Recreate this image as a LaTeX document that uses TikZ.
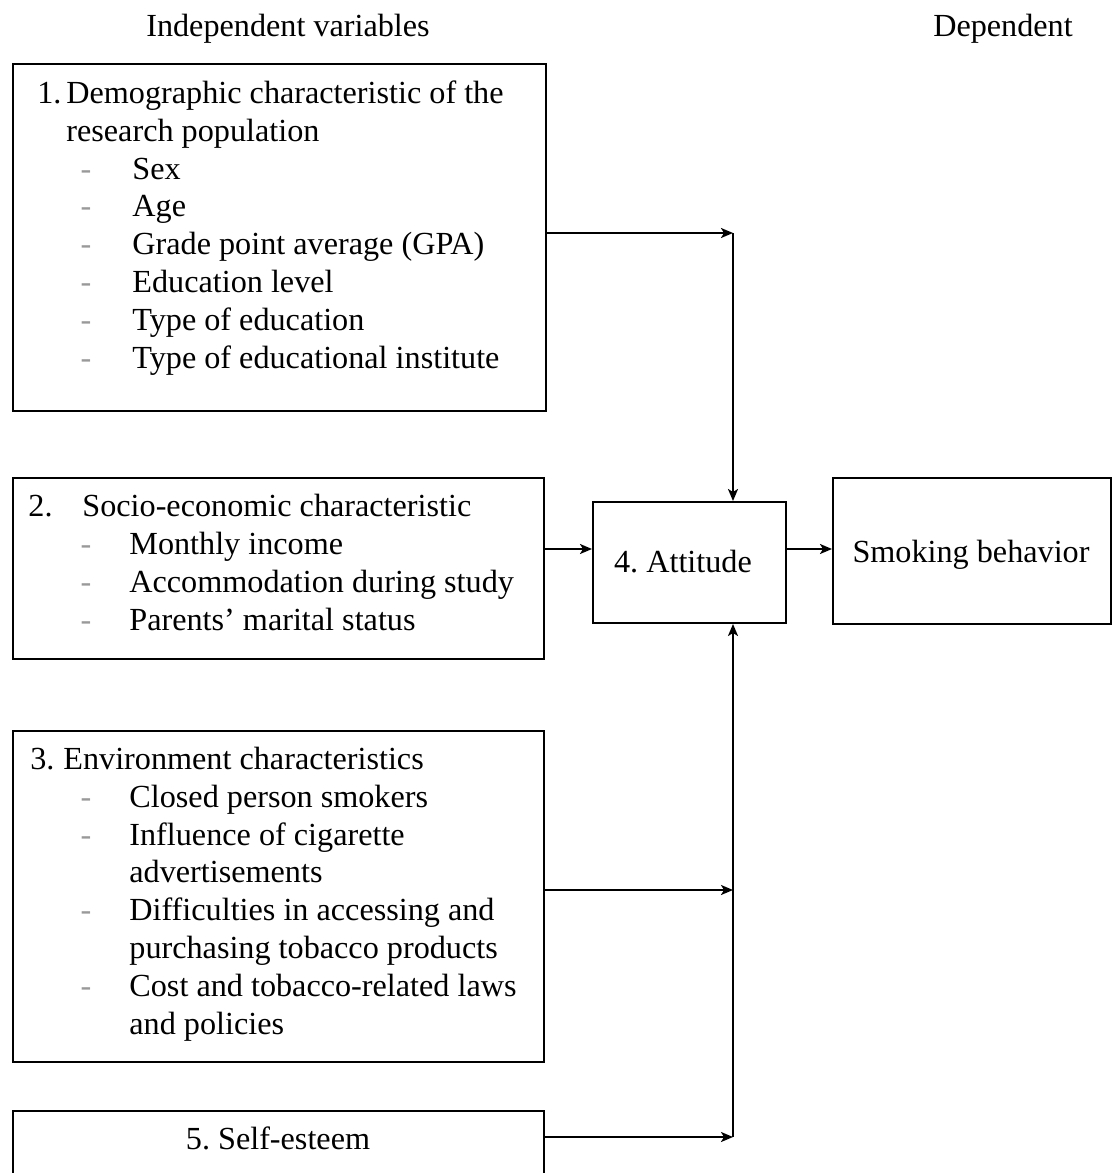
\documentclass[tikz,border=0pt]{standalone}
\usepackage{fontspec}
\setmainfont{Liberation Serif}
\usetikzlibrary{arrows.meta}
\newcommand\fsz{\fontsize{16.1}{19}\selectfont\frenchspacing}
\tikzset{
  box/.style={draw, line width=1pt, inner sep=0pt, anchor=north west},
  txt/.style={anchor=base west, inner sep=0pt, font=\fsz},
  ctxt/.style={anchor=base, inner sep=0pt, font=\fsz},
  dsh/.style={anchor=base, inner sep=0pt, text=black!40, font=\fsz},
  arr/.style={line width=1pt, -{Stealth[length=6pt,width=5pt,inset=1.5pt]}},
}
\begin{document}
\begin{tikzpicture}[x=0.5pt,y=-0.5pt]
\clip (0,0) rectangle (1112,1173);
\useasboundingbox (0,0) rectangle (1112,1173);
\fill[white] (0,0) rectangle (1112,1173);

% headers
\node[ctxt] (hind) at (288,36) {Independent variables};
\node[ctxt] (hdep) at (1003,36) {Dependent};

% boxes
\node[box, minimum width=266.5pt, minimum height=173.5pt] (b1) at (12,63) {};
\node[box, minimum width=265.5pt, minimum height=90.5pt] (b2) at (12,477) {};
\node[box, minimum width=265.5pt, minimum height=165.5pt] (b3) at (12,730) {};
\node[box, minimum width=265.5pt, minimum height=50pt] (b5) at (12,1110) {};
\node[box, minimum width=96.5pt, minimum height=60.5pt] (att) at (592,501) {};
\node[box, minimum width=139pt, minimum height=73pt] (smk) at (832,477) {};

% box 1 text
\node[txt] (n1) at (37,103) {1.};
\node[txt] (t11) at (66,103) {Demographic characteristic of the};
\node[txt] (t12) at (66,141) {research population};
\node[dsh] (d13) at (86,179) {-};
\node[txt] (t13) at (132,179) {Sex};
\node[dsh] (d14) at (86,216) {-};
\node[txt] (t14) at (132,216) {Age};
\node[dsh] (d15) at (86,254) {-};
\node[txt] (t15) at (132,254) {Grade point average (GPA)};
\node[dsh] (d16) at (86,292) {-};
\node[txt] (t16) at (132,292) {Education level};
\node[dsh] (d17) at (86,330) {-};
\node[txt] (t17) at (132,330) {Type of education};
\node[dsh] (d18) at (86,368) {-};
\node[txt] (t18) at (132,368) {Type of educational institute};

% box 2 text
\node[txt] (n2) at (28,516) {2.};
\node[txt] (t21) at (82,516) {Socio-economic characteristic};
\node[dsh] (d22) at (86,554) {-};
\node[txt] (t22) at (129,554) {Monthly income};
\node[dsh] (d23) at (86,592) {-};
\node[txt] (t23) at (129,592) {Accommodation during study};
\node[dsh] (d24) at (86,630) {-};
\node[txt] (t24) at (129,630) {Parents’ marital status};

% box 3 text
\node[txt] (n3) at (30,769) {3.};
\node[txt] (t31) at (63,769) {Environment characteristics};
\node[dsh] (d32) at (86,807) {-};
\node[txt] (t32) at (129,807) {Closed person smokers};
\node[dsh] (d33) at (86,845) {-};
\node[txt] (t33) at (129,845) {Influence of cigarette};
\node[txt] (t34) at (129,882) {advertisements};
\node[dsh] (d35) at (86,920) {-};
\node[txt] (t35) at (129,920) {Difficulties in accessing and};
\node[txt] (t36) at (129,958) {purchasing tobacco products};
\node[dsh] (d37) at (86,996) {-};
\node[txt] (t37) at (129,996) {Cost and tobacco-related laws};
\node[txt] (t38) at (129,1034) {and policies};

% box 5, attitude, smoking text
\node[ctxt] (t5) at (278,1149) {5. Self-esteem};
\node[ctxt] (tatt) at (683,572) {4. Attitude};
\node[ctxt] (tsmk) at (971,562) {Smoking behavior};

% junctions
\coordinate (j1) at (733,233);
\coordinate (j3) at (733,890);
\coordinate (j5) at (733,1137);
\coordinate (m) at (700,549);

% connectors
\draw[arr] (b1.east |- j1) -- (j1);
\draw[arr] (j1) -- (att.north -| j1);
\draw[arr] (b2.east |- m) -- (att.west |- m);
\draw[arr] (att.east |- m) -- (smk.west |- m);
\draw[arr] (b3.east |- j3) -- (j3);
\draw[arr] (b5.east |- j5) -- (j5);
\draw[arr] (j5) -- (att.south -| j5);
\end{tikzpicture}
\end{document}
